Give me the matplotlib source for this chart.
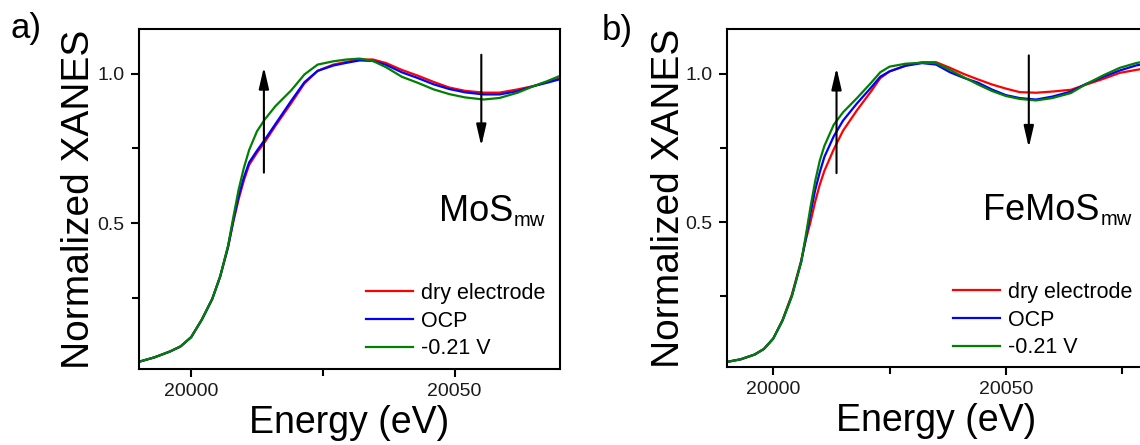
import matplotlib
matplotlib.use('Agg')
import matplotlib.pyplot as plt
import numpy as np

plt.rcParams['font.family'] = ['Liberation Sans', 'DejaVu Sans']

E0 = 20000

# panel a) MoS_mw, energies given as offset from 20000 eV
energy_a = [-10, -7, -4, -2, 0, 2, 4, 5.5, 7, 8, 9, 10, 11, 12.5, 14, 16, 19, 21.5,
            24, 27, 29.5, 32, 34.5, 37, 40, 43, 46, 49, 52, 55.5, 58.5, 62, 65, 67.5, 70]
dry_a = [0.035, 0.05, 0.07, 0.087, 0.118, 0.176, 0.246, 0.321, 0.42, 0.505, 0.58, 0.643,
         0.695, 0.736, 0.772, 0.826, 0.902, 0.968, 1.01, 1.031, 1.04, 1.048, 1.048, 1.036,
         1.013, 0.994, 0.973, 0.954, 0.943, 0.937, 0.937, 0.948, 0.959, 0.972, 0.985]
ocp_a = [0.035, 0.05, 0.07, 0.087, 0.118, 0.176, 0.246, 0.321, 0.42, 0.51, 0.59, 0.653,
         0.703, 0.743, 0.78, 0.832, 0.91, 0.972, 1.01, 1.028, 1.037, 1.045, 1.043, 1.03,
         1.005, 0.986, 0.965, 0.949, 0.938, 0.931, 0.931, 0.942, 0.959, 0.97, 0.982]
neg_a = [0.035, 0.05, 0.07, 0.087, 0.118, 0.176, 0.246, 0.321, 0.425, 0.52, 0.612, 0.685,
         0.745, 0.808, 0.848, 0.892, 0.945, 0.998, 1.031, 1.042, 1.048, 1.051, 1.043, 1.022,
         0.99, 0.97, 0.948, 0.932, 0.921, 0.914, 0.919, 0.937, 0.959, 0.975, 0.993]

# panel b) FeMoS_mw
energy_b = [-10, -7, -4, -2, 0, 2, 4, 6, 7, 8, 9, 10, 11, 13, 15, 18, 21, 23, 25, 28.5,
            32, 35, 38, 41, 44, 47, 50, 53, 56.5, 60, 64, 67, 71, 74.5, 78, 80]
dry_b = [0.028, 0.037, 0.053, 0.072, 0.107, 0.17, 0.255, 0.37, 0.44, 0.5, 0.568, 0.626,
         0.673, 0.745, 0.808, 0.877, 0.94, 0.985, 1.008, 1.028, 1.039, 1.039, 1.02, 0.999,
         0.981, 0.964, 0.95, 0.938, 0.936, 0.94, 0.946, 0.962, 0.983, 1.003, 1.013, 1.018]
ocp_b = [0.028, 0.037, 0.053, 0.072, 0.107, 0.168, 0.25, 0.365, 0.445, 0.53, 0.607, 0.668,
         0.72, 0.789, 0.842, 0.9, 0.953, 0.99, 1.008, 1.027, 1.036, 1.031, 1.005, 0.986,
         0.97, 0.947, 0.928, 0.918, 0.913, 0.923, 0.94, 0.964, 0.99, 1.011, 1.028, 1.034]
neg_b = [0.028, 0.037, 0.053, 0.072, 0.107, 0.168, 0.25, 0.365, 0.455, 0.55, 0.637, 0.707,
         0.757, 0.828, 0.87, 0.918, 0.969, 1.005, 1.024, 1.034, 1.037, 1.036, 1.013, 0.988,
         0.964, 0.942, 0.925, 0.915, 0.91, 0.918, 0.935, 0.963, 0.995, 1.02, 1.036, 1.042]

labels = ['dry electrode', 'OCP', '-0.21 V']
colors = ['#ff0000', '#0000ff', '#008000']

# arrows: (energy offset, tail, tip)
arrows_a = [(13.8, 0.669, 1.023), (55.07, 1.064, 0.758)]
arrows_b = [(13.6, 0.665, 1.02), (54.94, 1.062, 0.751)]

fig = plt.figure(figsize=(11.4, 4.45), dpi=100)
ax_a = fig.add_axes([0.1215, 0.170, 0.3697, 0.7647])
ax_b = fig.add_axes([0.6375, 0.1746, 0.3672, 0.7596])


def draw_panel(ax, energy, series, arrows, xmax, ylab_x):
    x = E0 + np.asarray(energy)
    for s, c, lab in zip(series, colors, labels):
        ax.plot(x, s, color=c, lw=1.6, label=lab)
    for e, tail, tip in arrows:
        ax.annotate('', xy=(E0 + e, tip), xytext=(E0 + e, tail),
                    arrowprops=dict(arrowstyle='-|>,head_length=1.3,head_width=0.3',
                                    color='k', lw=1.5, shrinkA=0, shrinkB=0,
                                    mutation_scale=10))
    # ticks first, set_ticks would otherwise widen the limits
    ax.set_xticks([20000, 20050])
    ax.set_xticks([20025, 20075], minor=True)
    ax.set_yticks([0.5, 1.0])
    ax.set_yticks([0.25, 0.75], minor=True)
    ax.set_xlim(19990, xmax)
    ax.set_ylim(0.01, 1.15)
    ax.tick_params(which='both', direction='out', width=1.5, top=False, right=False,
                   labelsize=14, labelcolor='#1a1a1a')
    ax.tick_params(which='major', length=6, pad=4)
    ax.tick_params(which='minor', length=5)
    for sp in ax.spines.values():
        sp.set_linewidth(1.5)
    ax.set_ylabel('Normalized XANES', fontsize=28, va='center')
    ax.yaxis.set_label_coords(ylab_x, 0.5)
    ax.set_xlabel('Energy (eV)', fontsize=27, va='baseline')
    ax.xaxis.set_label_coords(0.5, -0.187)


draw_panel(ax_a, energy_a, [dry_a, ocp_a, neg_a], arrows_a, 20070, -0.141)
draw_panel(ax_b, energy_b, [dry_b, ocp_b, neg_b], arrows_b, 20080, -0.1386)

leg_kw = dict(frameon=False, fontsize=15.5, handlelength=2.2, handletextpad=0.35,
              labelspacing=0.32, borderpad=0, borderaxespad=0, loc='upper left',
              bbox_transform=fig.transFigure)
ax_a.legend(bbox_to_anchor=(0.3211, 0.3647), **leg_kw)
ax_b.legend(bbox_to_anchor=(0.8357, 0.367), **leg_kw)

fig.text(0.4499, 0.504, 'MoS', fontsize=26, ha='right', va='baseline')
fig.text(0.4503, 0.4921, 'mw', fontsize=14.5, ha='left', va='baseline')
fig.text(0.9645, 0.5056, 'FeMoS', fontsize=26, ha='right', va='baseline')
fig.text(0.9658, 0.4944, 'mw', fontsize=14.5, ha='left', va='baseline')

fig.text(0.0088, 0.914, 'a)', fontsize=25, ha='left', va='baseline')
fig.text(0.528, 0.910, 'b)', fontsize=25, ha='left', va='baseline')

fig.savefig('out.png', dpi=100)
